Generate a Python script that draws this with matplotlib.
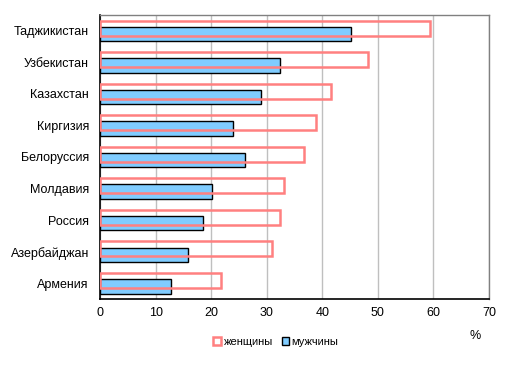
import matplotlib
matplotlib.use("Agg")
import matplotlib.pyplot as plt
from matplotlib.patches import Patch
import numpy as np

plt.rcParams['font.family'] = ['Liberation Sans', 'DejaVu Sans']

countries = ["Таджикистан", "Узбекистан", "Казахстан", "Киргизия", "Белоруссия",
             "Молдавия", "Россия", "Азербайджан", "Армения"]
women = [59.4, 48.3, 41.6, 38.9, 36.7, 33.1, 32.3, 31.0, 21.8]
men = [45.2, 32.3, 29.0, 24.0, 26.1, 20.2, 18.6, 15.9, 12.8]
xticks = [0, 10, 20, 30, 40, 50, 60, 70]

pink = "#FF8080"
blue = "#80CCFF"

fig = plt.figure(figsize=(5.11, 3.70), dpi=100)
ax = fig.add_axes([0.1957, 0.192, 0.7613, 0.7675])

y = np.arange(len(countries))
ax.barh(y + 0.10, men, height=0.46, color=blue, edgecolor="black", linewidth=1.0, zorder=2)
ax.barh(y - 0.085, women, height=0.475, facecolor="none", edgecolor=pink, linewidth=1.8, zorder=3)

ax.set_ylim(len(countries) - 0.5, -0.5)
ax.set_xlim(0, 70)
ax.set_xticks(xticks)
ax.set_yticks(y)
ax.set_yticklabels(countries, fontsize=9)
ax.tick_params(axis='x', labelsize=9, length=0, pad=6)
ax.tick_params(axis='y', length=0, pad=8)
ax.xaxis.grid(True, color="#BFBFBF", linewidth=1.0, zorder=0)
ax.set_axisbelow(True)
for s in ["top", "right"]:
    ax.spines[s].set_color("#808080")
    ax.spines[s].set_linewidth(1.0)
for s in ["left", "bottom"]:
    ax.spines[s].set_color("black")
    ax.spines[s].set_linewidth(1.2)

handles = [Patch(facecolor="white", edgecolor=pink, linewidth=1.8, label="женщины"),
           Patch(facecolor=blue, edgecolor="black", linewidth=1.0, label="мужчины")]
fig.legend(handles=handles, loc="center", bbox_to_anchor=(276 / 511, 1 - 342 / 370),
           ncol=2, frameon=False, fontsize=8, handlelength=0.7, handleheight=0.7,
           handletextpad=0.2, columnspacing=0.8)
fig.text(475 / 511, 1 - 336 / 370, "%", fontsize=9, ha="center", va="center")

fig.savefig("out.png", dpi=100)
